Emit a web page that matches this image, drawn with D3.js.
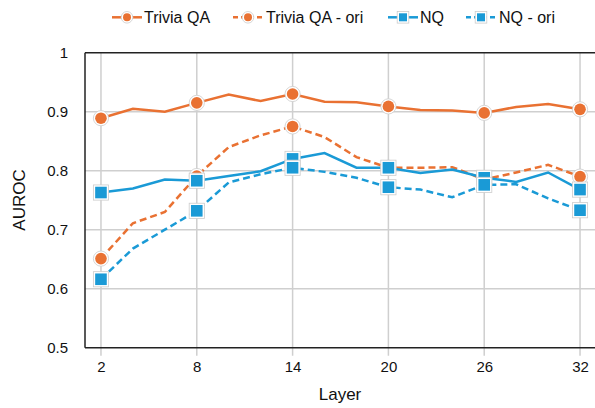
<!DOCTYPE html>
<html><head><meta charset="utf-8">
<script src="https://cdn.jsdelivr.net/npm/d3@7"></script>
<style>html,body{margin:0;padding:0;background:#fff;}svg{display:block;font-family:"Liberation Sans",Arial,sans-serif;}</style>
</head><body><svg id="c" width="595" height="408"></svg>
<script>
const layers = [2,4,6,8,10,12,14,16,18,20,22,24,26,28,30,32];
const markerLayers = [2,8,14,20,26,32];
const triviaQA    = [0.889,0.905,0.900,0.915,0.929,0.918,0.930,0.917,0.916,0.909,0.903,0.902,0.898,0.908,0.913,0.904];
const triviaQAori = [0.651,0.711,0.730,0.791,0.840,0.860,0.875,0.857,0.823,0.805,0.805,0.806,0.785,0.797,0.810,0.790];
const nq          = [0.763,0.770,0.785,0.783,0.791,0.799,0.820,0.830,0.805,0.805,0.796,0.802,0.788,0.781,0.797,0.768];
const nqOri       = [0.616,0.668,0.700,0.732,0.780,0.794,0.805,0.798,0.788,0.772,0.768,0.755,0.776,0.777,0.753,0.733];
const yTicks = [0.5,0.6,0.7,0.8,0.9,1];
const seriesNames = ["Trivia QA","Trivia QA - ori","NQ","NQ - ori"];
const orange = "#E97132", blue = "#1A9AD6";

const series = [
  {name:seriesNames[0], values:triviaQA, color:orange, dash:null, shape:"circle"},
  {name:seriesNames[1], values:triviaQAori, color:orange, dash:"7,4", shape:"circle"},
  {name:seriesNames[2], values:nq, color:blue, dash:null, shape:"square"},
  {name:seriesNames[3], values:nqOri, color:blue, dash:"7,4", shape:"square"}
];

const svg = d3.select("#c");
const x = d3.scaleLinear().domain([1,33]).range([85,596]);
const y = d3.scaleLinear().domain([0.5,1]).range([347.7,52.7]);

// gridlines
const g = svg.append("g");
g.selectAll(".vg").data(markerLayers).join("line")
  .attr("x1",d=>x(d)).attr("x2",d=>x(d)).attr("y1",y(1)).attr("y2",y(0.5)+8)
  .attr("stroke","#cfcfcf").attr("stroke-width",1.5);
g.selectAll(".hg").data(yTicks.filter(t=>t>0.5&&t<1)).join("line")
  .attr("x1",x(1)).attr("x2",596).attr("y1",d=>y(d)).attr("y2",d=>y(d))
  .attr("stroke","#cfcfcf").attr("stroke-width",1.5);

// frame
svg.append("line").attr("x1",x(1)).attr("x2",596).attr("y1",y(1)).attr("y2",y(1)).attr("stroke","#222").attr("stroke-width",1.5);
svg.append("line").attr("x1",x(1)).attr("x2",596).attr("y1",y(0.5)).attr("y2",y(0.5)).attr("stroke","#222").attr("stroke-width",1.5);
svg.append("line").attr("x1",x(1)).attr("x2",x(1)).attr("y1",y(1)).attr("y2",y(0.5)).attr("stroke","#222").attr("stroke-width",1.5);

// axes
const xAxis = d3.axisBottom(x).tickValues(markerLayers).tickSize(0).tickPadding(14);
const xa = svg.append("g").attr("transform",`translate(0,${y(0.5)})`).call(xAxis);
xa.select(".domain").remove();
xa.selectAll("text").attr("font-size",15).attr("fill","#111").style("font-family","'Liberation Sans',Arial,sans-serif");
const yAxis = d3.axisLeft(y).tickValues(yTicks).tickSize(0).tickPadding(17).tickFormat(d=>d===1?"1":d3.format(".1f")(d));
const ya = svg.append("g").attr("transform",`translate(${x(1)},0)`).call(yAxis);
ya.select(".domain").remove();
ya.selectAll("text").attr("font-size",15).attr("fill","#111").style("font-family","'Liberation Sans',Arial,sans-serif");

svg.append("text").attr("x",340).attr("y",400).attr("text-anchor","middle").attr("font-size",17).attr("fill","#111").text("Layer");
svg.append("text").attr("transform","translate(25,200) rotate(-90)").attr("text-anchor","middle").attr("font-size",17).attr("fill","#111").text("AUROC");

// lines
const line = d3.line().x((d,i)=>x(layers[i])).y(d=>y(d));
series.forEach(s=>{
  svg.append("path").datum(s.values).attr("d",line).attr("fill","none")
    .attr("stroke",s.color).attr("stroke-width",2.5).attr("stroke-dasharray",s.dash);
});
function drawMarker(sel, s, cx, cy, r){
  if(s.shape==="circle"){
    sel.append("circle").attr("cx",cx).attr("cy",cy).attr("r",r+1.8).attr("fill","#fff").attr("stroke","#ccc").attr("stroke-width",0.8);
    sel.append("circle").attr("cx",cx).attr("cy",cy).attr("r",r).attr("fill",s.color);
  } else {
    sel.append("rect").attr("x",cx-r-1.8).attr("y",cy-r-1.8).attr("width",2*r+3.6).attr("height",2*r+3.6).attr("fill","#fff").attr("stroke","#ccc").attr("stroke-width",0.8);
    sel.append("rect").attr("x",cx-r).attr("y",cy-r).attr("width",2*r).attr("height",2*r).attr("fill",s.color);
  }
}
series.forEach(s=>{
  const mg = svg.append("g");
  layers.forEach((l,i)=>{
    if(markerLayers.includes(l)) drawMarker(mg, s, x(l), y(s.values[i]), 5.8);
  });
});

// legend
const legendX = [112,233,388,466];
series.forEach((s,i)=>{
  const lg = svg.append("g");
  const x0 = legendX[i], cy = 17.3;
  lg.append("line").attr("x1",x0).attr("x2",x0+30).attr("y1",cy).attr("y2",cy)
    .attr("stroke",s.color).attr("stroke-width",2.5).attr("stroke-dasharray",s.dash?"5,3":null);
  drawMarker(lg, s, x0+15, cy, 4);
  lg.append("text").attr("x",x0+(s.dash?33:32)).attr("y",cy+5.5).attr("font-size",16).attr("fill","#111").text(s.name);
});
</script></body></html>
